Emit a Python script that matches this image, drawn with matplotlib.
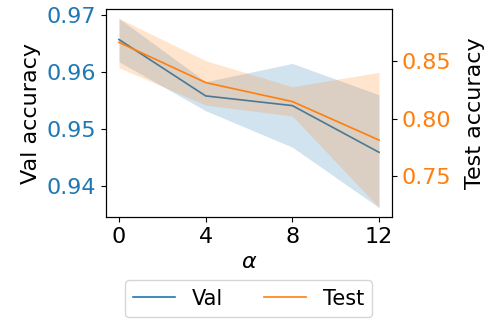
import matplotlib
matplotlib.use("Agg")
import matplotlib.pyplot as plt
import numpy as np

alpha = [0, 4, 8, 12]

val_mean  = [0.9657, 0.9558, 0.9541, 0.9459]
val_lo    = [0.9618, 0.9532, 0.9468, 0.9362]
val_hi    = [0.9694, 0.9583, 0.9615, 0.9560]

test_mean = [0.8663, 0.8313, 0.8148, 0.7813]
test_lo   = [0.8442, 0.8117, 0.8022, 0.7226]
test_hi   = [0.8871, 0.8504, 0.8277, 0.8402]

FS = 16
plt.rcParams["font.size"] = FS

fig = plt.figure(figsize=(4.85, 3.2), dpi=100)
ax1 = fig.add_axes([106 / 485, 1 - 217 / 320, 286 / 485, 208 / 320])
ax2 = ax1.twinx()

l1, = ax1.plot(alpha, val_mean, color="tab:blue", lw=1.2, label="Val")
ax1.fill_between(alpha, val_lo, val_hi, color="tab:blue", alpha=0.2, lw=0)
l2, = ax2.plot(alpha, test_mean, color="tab:orange", lw=1.2, label="Test")
ax2.fill_between(alpha, test_lo, test_hi, color="tab:orange", alpha=0.2, lw=0)

ax1.set_xticks(alpha)
ax1.set_yticks([0.94, 0.95, 0.96, 0.97])
ax2.set_yticks([0.75, 0.80, 0.85])
ax1.tick_params(axis="y", labelcolor="tab:blue", labelsize=FS)
ax2.tick_params(axis="y", labelcolor="tab:orange", labelsize=FS)
ax1.tick_params(axis="x", labelsize=FS)
ax1.set_xlabel(r"$\alpha$", fontsize=FS)
ax1.set_ylabel("Val accuracy", fontsize=FS)
ax2.set_ylabel("Test accuracy", fontsize=FS, labelpad=10)

fig.legend(handles=[l1, l2], loc="upper center", ncol=2,
           bbox_to_anchor=(248.5 / 485, 1 - 270 / 320), fontsize=15,
           columnspacing=2.0)

fig.savefig("out.png", dpi=100)
